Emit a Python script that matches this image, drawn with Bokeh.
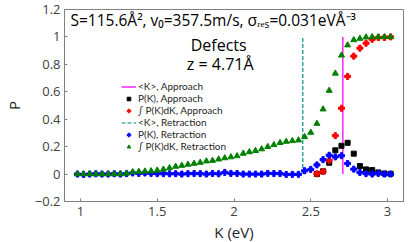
from bokeh.plotting import figure
from bokeh.models import Label, Legend, LegendItem, FixedTicker, Range1d
from bokeh.embed import file_html
from bokeh.resources import INLINE

# ---- data ----
K_ret = [0.98, 1.02, 1.06, 1.10, 1.14, 1.18, 1.22, 1.26, 1.30, 1.34, 1.38, 1.42, 1.46,
         1.50, 1.54, 1.58, 1.62, 1.66, 1.70, 1.74, 1.78, 1.82, 1.86, 1.90, 1.94, 1.98,
         2.02, 2.06, 2.10, 2.14, 2.18, 2.22, 2.26, 2.30, 2.34, 2.38, 2.42, 2.46, 2.50,
         2.54, 2.58, 2.62, 2.66, 2.70, 2.74, 2.78, 2.82, 2.86, 2.90, 2.94, 2.98, 3.02]
P_ret = [0.0, -0.003, 0.0, 0.002, 0.0, 0.0, 0.002, 0.0, 0.003, 0.008, 0.005, 0.008, 0.005,
         0.003, 0.003, 0.002, 0.003, 0.0, 0.003, 0.004, 0.003, 0.0, 0.004, 0.002, 0.012, 0.005,
         0.004, 0.0, 0.0, 0.0, 0.0, 0.005, 0.004, 0.004, -0.003, -0.002, -0.002, 0.024, 0.034,
         0.067, 0.105, 0.137, 0.125, 0.134, 0.077, 0.036, 0.012, 0.003, 0.0, 0.005, 0.0, 0.0]
C_ret = [0.0, 0.0, 0.0, 0.0, 0.0, 0.0, 0.0, 0.0, 0.005, 0.015, 0.018, 0.020, 0.022,
         0.027, 0.034, 0.045, 0.055, 0.062, 0.070, 0.077, 0.084, 0.094, 0.098, 0.108, 0.117, 0.124,
         0.132, 0.150, 0.161, 0.170, 0.182, 0.199, 0.213, 0.228, 0.237, 0.242, 0.247, 0.271, 0.303,
         0.368, 0.473, 0.609, 0.734, 0.866, 0.940, 0.978, 0.988, 0.998, 1.0, 1.0, 1.0, 1.0]

K_app = [2.54, 2.58, 2.62, 2.66, 2.70, 2.74, 2.78, 2.82, 2.86, 2.90, 2.94, 2.98, 3.02]
P_app = [0.0, 0.020, 0.083, 0.173, 0.206, 0.228, 0.149, 0.058, 0.034, 0.029, 0.012, 0.004, 0.002]
C_app = [0.002, 0.019, 0.100, 0.280, 0.480, 0.712, 0.860, 0.918, 0.954, 0.983, 0.995, 0.996, 1.0]

Kmean_app = [2.709]
Kmean_ret = [2.448]
mean_y0 = [0.0]
mean_y1 = [1.0]

x_ticks = [1, 1.5, 2, 2.5, 3]
y_ticks = [-0.2, 0, 0.2, 0.4, 0.6, 0.8, 1.0, 1.2]
y_tick_labels = {-0.2: "\u22120.2", 0: "0", 0.2: "0.2", 0.4: "0.4", 0.6: "0.6",
                 0.8: "0.8", 1.0: "1", 1.2: "1.2"}

FONT = "Open Sans"
AXIS_COL = "#808080"
LABEL_COL = "#404040"

p = figure(frame_width=339, frame_height=192,
           x_range=Range1d(0.896, 3.104), y_range=Range1d(-0.2, 1.2),
           output_backend="svg", toolbar_location=None,
           min_border_left=56, min_border_right=1, min_border_top=9, min_border_bottom=0)
p.outline_line_color = AXIS_COL
p.grid.visible = False
p.background_fill_color = "white"

for ax in (p.xaxis[0], p.yaxis[0]):
    ax.axis_line_color = AXIS_COL
    ax.major_tick_line_color = AXIS_COL
    ax.major_tick_in = 3
    ax.major_tick_out = 0
    ax.minor_tick_line_color = None
    ax.major_label_text_font = FONT
    ax.major_label_text_font_size = "13px"
    ax.major_label_text_color = LABEL_COL
    ax.axis_label_text_font = FONT
    ax.axis_label_text_font_size = "15px"
    ax.axis_label_text_font_style = "normal"
    ax.axis_label_text_color = "#262626"

p.xaxis[0].ticker = FixedTicker(ticks=x_ticks)
p.yaxis[0].ticker = FixedTicker(ticks=y_ticks)
p.yaxis[0].major_label_overrides = y_tick_labels
p.xaxis[0].axis_label = "K (eV)"
p.yaxis[0].axis_label = "P"
p.xaxis[0].major_label_standoff = 5
p.xaxis[0].axis_label_standoff = 3
p.yaxis[0].major_label_standoff = 4
p.yaxis[0].axis_label_standoff = 8

# approach
r_mapp = p.segment(x0=Kmean_app, y0=mean_y0, x1=Kmean_app, y1=mean_y1,
                   line_color="#ff00ff", line_width=1.3)
r_papp = p.scatter(K_app, P_app, marker="square", size=5, color="black")
r_capp = p.scatter(K_app, C_app, marker="plus", size=6, color="red")
# retraction
r_mret = p.segment(x0=Kmean_ret, y0=mean_y0, x1=Kmean_ret, y1=mean_y1,
                   line_color="#008b8b", line_width=1.2, line_dash="4 2")
r_pret = p.scatter(K_ret, P_ret, marker="plus", size=6, color="blue")
r_cret = p.scatter(K_ret, C_ret, marker="triangle", size=6, color="green")

legend = Legend(items=[
    LegendItem(label="<K>, Approach", renderers=[r_mapp]),
    LegendItem(label="P(K), Approach", renderers=[r_papp]),
    LegendItem(label="\u222b P(K)dK, Approach", renderers=[r_capp]),
    LegendItem(label="<K>, Retraction", renderers=[r_mret]),
    LegendItem(label="P(K), Retraction", renderers=[r_pret]),
    LegendItem(label="\u222b P(K)dK, Retraction", renderers=[r_cret]),
], location=(57, 49))
legend.background_fill_alpha = 0
legend.border_line_alpha = 0
legend.padding = 0
legend.margin = 0
legend.spacing = 0
legend.glyph_width = 15
legend.glyph_height = 9
legend.label_height = 9
legend.label_standoff = 2
legend.label_text_font = "Lato"
legend.label_text_font_size = "10px"
legend.label_text_color = "#262626"
p.add_layout(legend)

p.add_layout(Label(x=0.935, y=1.122,
                   text="S=115.6\u00c5\u00b2, v\u2080=357.5m/s, \u03c3\u1d63\u2091\u209b=0.031eV\u00c5\u207b\u00b3",
                   text_font=FONT, text_font_size="15.5px", text_color="black",
                   text_align="left", text_baseline="middle"))
p.add_layout(Label(x=1.90, y=0.942, text="Defects", text_font=FONT, text_font_size="16px",
                   text_color="black", text_align="center", text_baseline="middle"))
p.add_layout(Label(x=1.91, y=0.80, text="z = 4.71\u00c5", text_font=FONT, text_font_size="16px",
                   text_color="black", text_align="center", text_baseline="middle"))

open("out.html", "w").write(file_html(p, INLINE))
